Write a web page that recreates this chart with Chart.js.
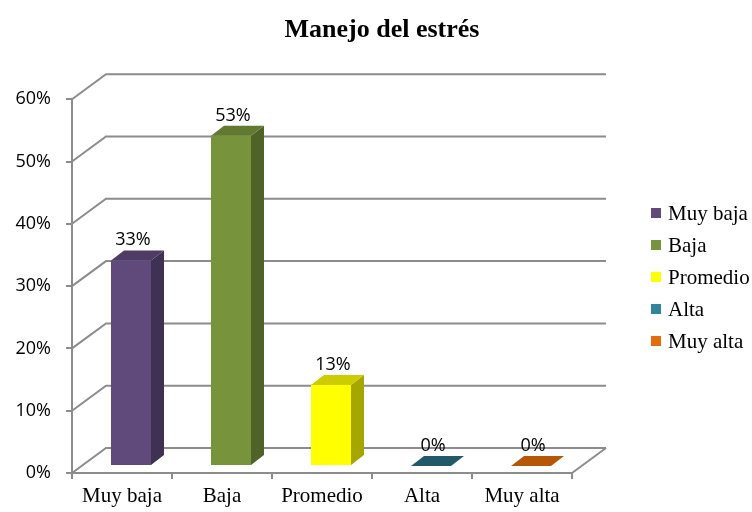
<!DOCTYPE html>
<html>
<head>
<meta charset="utf-8">
<title>Manejo del estrés</title>
<script src="https://cdn.jsdelivr.net/npm/chart.js@4/dist/chart.umd.min.js"></script>
<style>
  html, body { margin: 0; padding: 0; background: #fff; }
  canvas { display: block; }
</style>
</head>
<body>
<canvas id="chart" width="752" height="512"></canvas>
<script>
// --- data ------------------------------------------------------------------
const categories = ['Muy baja', 'Baja', 'Promedio', 'Alta', 'Muy alta'];
const percentages = [33, 53, 13, 0, 0];
const yTickStep = 10;
const yMax = 60;

// --- colours (front / side / top face of each 3D bar) -----------------------
const frontColors = ['#604A7B', '#77933C', '#FFFF00', '#31849B', '#E46C0A'];
const sideColors  = ['#3F3151', '#4F6228', '#A6A600', '#215968', '#984807'];
const topColors   = ['#4E3C66', '#627A30', '#CCCC00', '#215968', '#B65708'];

const GRID = '#8c8c8c';
const WALL = { dx: 34, dy: -25 };   // depth of the back wall
const BAR_SHIFT = { dx: 9, dy: -7 }; // bars sit a bit inside the floor
const BAR_DEPTH = { dx: 13, dy: -10 };

// -----------------------------------------------------------------------------
// back wall + floor drawn from the scales
// -----------------------------------------------------------------------------
const wallsPlugin = {
  id: 'walls',
  beforeDatasetsDraw(chart) {
    const { ctx } = chart;
    const x = chart.scales.x, y = chart.scales.y;
    ctx.save();
    ctx.strokeStyle = GRID;
    ctx.lineWidth = 2;
    y.ticks.forEach(t => {
      const py = y.getPixelForValue(t.value);
      ctx.beginPath();
      ctx.moveTo(x.left, py);
      ctx.lineTo(x.left + WALL.dx, py + WALL.dy);
      ctx.lineTo(x.right + WALL.dx, py + WALL.dy);
      ctx.stroke();
    });
    // right edge of the floor
    const p0 = y.getPixelForValue(0);
    ctx.beginPath();
    ctx.moveTo(x.right, p0);
    ctx.lineTo(x.right + WALL.dx, p0 + WALL.dy);
    ctx.stroke();
    ctx.restore();

    // shift bars into the floor depth
    ctx.save();
    ctx.translate(BAR_SHIFT.dx, BAR_SHIFT.dy);
  },
  afterDatasetsDraw(chart) {
    const { ctx } = chart;
    const meta = chart.getDatasetMeta(0);
    meta.data.forEach((el, i) => {
      const { x, y, base, width } = el.getProps(['x', 'y', 'base', 'width'], true);
      const l = x - width / 2, r = x + width / 2;
      // side face
      if (base - y > 0.5) {
        ctx.fillStyle = sideColors[i];
        ctx.beginPath();
        ctx.moveTo(r, y);
        ctx.lineTo(r + BAR_DEPTH.dx, y + BAR_DEPTH.dy);
        ctx.lineTo(r + BAR_DEPTH.dx, base + BAR_DEPTH.dy);
        ctx.lineTo(r, base);
        ctx.closePath();
        ctx.fill();
      }
      // top face
      ctx.fillStyle = topColors[i];
      ctx.beginPath();
      ctx.moveTo(l, y);
      ctx.lineTo(l + BAR_DEPTH.dx, y + BAR_DEPTH.dy);
      ctx.lineTo(r + BAR_DEPTH.dx, y + BAR_DEPTH.dy);
      ctx.lineTo(r, y);
      ctx.closePath();
      ctx.fill();
      // value label
      ctx.fillStyle = '#000';
      ctx.font = '18px "Open Sans"';
      ctx.textAlign = 'center';
      ctx.textBaseline = 'alphabetic';
      ctx.fillText(percentages[i] + '%', x + 2, y - 15);
    });
    ctx.restore();
  },
  afterDraw(chart) {
    // legend, one entry per category
    const { ctx } = chart;
    const lx = chart.scales.x.right + 79;
    const ly = 213;
    ctx.save();
    ctx.font = '21px "Liberation Serif"';
    ctx.textBaseline = 'middle';
    ctx.textAlign = 'left';
    categories.forEach((c, i) => {
      const cy = ly + i * 32;
      ctx.fillStyle = frontColors[i];
      ctx.fillRect(lx, cy - 5, 10, 10);
      ctx.fillStyle = '#000';
      ctx.fillText(c, lx + 17, cy + 1);
    });
    ctx.restore();
  }
};

new Chart(document.getElementById('chart'), {
  type: 'bar',
  data: {
    labels: categories,
    datasets: [{
      data: percentages,
      backgroundColor: frontColors,
      borderWidth: 0,
      barPercentage: 0.4,
      categoryPercentage: 1.0
    }]
  },
  options: {
    responsive: false,
    animation: false,
    layout: { padding: { left: 12, right: 0, top: 0, bottom: 0 } },
    plugins: {
      legend: { display: false },
      tooltip: { enabled: false },
      title: {
        display: true,
        text: 'Manejo del estrés',
        color: '#000',
        font: { family: '"Liberation Serif"', size: 26, weight: 'bold' },
        padding: { top: 15, bottom: 53 }
      }
    },
    scales: {
      x: {
        grid: { display: true, drawOnChartArea: false, tickLength: 6, color: GRID, lineWidth: 2 },
        border: { display: true, color: GRID, width: 2 },
        ticks: { color: '#000', padding: 5, font: { family: '"Liberation Serif"', size: 21 } },
        afterFit(s) { s.height = 39; }
      },
      y: {
        min: 0,
        max: yMax,
        grid: { display: true, drawOnChartArea: false, tickLength: 6, color: GRID, lineWidth: 2 },
        border: { display: true, color: GRID, width: 2 },
        ticks: {
          stepSize: yTickStep,
          color: '#000',
          padding: 15,
          font: { family: '"Open Sans"', size: 18 },
          callback: v => v + '%'
        },
        afterFit(s) { s.width = 60; }
      },
      // empty right-hand axis that only reserves room for the legend
      side: {
        position: 'right',
        display: true,
        grid: { display: false },
        border: { display: false },
        ticks: { display: false },
        afterFit(s) { s.width = 180; }
      }
    }
  },
  plugins: [wallsPlugin]
});
</script>
</body>
</html>
